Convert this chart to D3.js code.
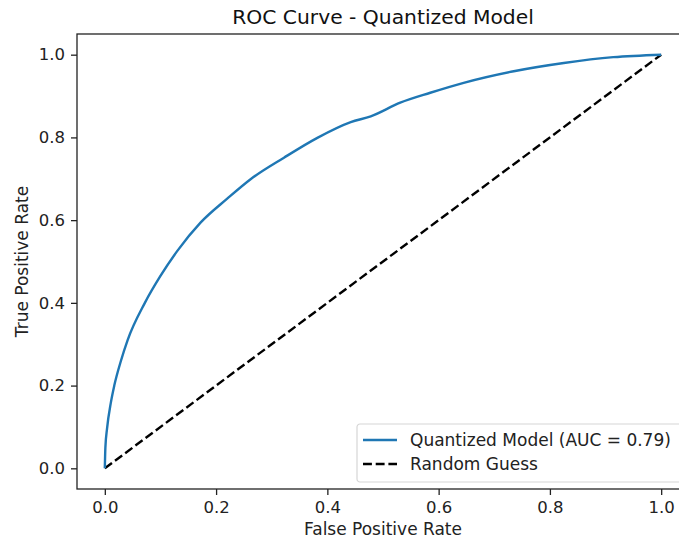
<!DOCTYPE html>
<html>
<head>
<meta charset="utf-8">
<style>
  body { margin: 0; background: #fff; }
  svg { display: block; font-family: "DejaVu Sans", sans-serif; }
</style>
</head>
<body>
<svg id="chart" width="679" height="543"></svg>
<script src="https://d3js.org/d3.v7.min.js"></script>
<script>
// ROC points
var fpr = [0, 0.001, 0.004, 0.011, 0.017, 0.029, 0.041, 0.072, 0.1, 0.13, 0.172, 0.22,
           0.262, 0.322, 0.382, 0.442, 0.478, 0.531, 0.585, 0.645, 0.735, 0.825, 0.914, 1.0]
var tpr = [0, 0.05, 0.096, 0.16, 0.2, 0.26, 0.31, 0.4, 0.465, 0.525, 0.594, 0.652,
           0.699, 0.751, 0.799, 0.837, 0.851, 0.884, 0.908, 0.932, 0.96, 0.98, 0.994, 1.0]
var guessX = [0, 1]
var guessY = [0, 1]
var ticks = [0, 0.2, 0.4, 0.6, 0.8, 1.0]
var labels = ["Quantized Model (AUC = 0.79)", "Random Guess"]

var svg = d3.select("#chart")
var pLeft = 77, pRight = 689, pTop = 34, pBottom = 489
var lw = 2.4, dash = "8.9,3.8"

var x = d3.scaleLinear().domain([-0.05, 1.05]).range([pLeft, pRight])
var y = d3.scaleLinear().domain([-0.05, 1.05]).range([pBottom, pTop])

var line = d3.line()
    .x(function(d) { return x(d[0]) })
    .y(function(d) { return y(d[1]) })

svg.append("path")
    .datum(d3.zip(guessX, guessY))
    .attr("d", line)
    .attr("fill", "none")
    .attr("stroke", "#000")
    .attr("stroke-width", lw)
    .attr("stroke-dasharray", dash)

svg.append("path")
    .datum(d3.zip(fpr, tpr))
    .attr("d", line.curve(d3.curveMonotoneX))
    .attr("fill", "none")
    .attr("stroke", "#1f77b4")
    .attr("stroke-width", lw)
    .attr("stroke-linejoin", "round")

// axes
var xAxis = svg.append("g")
    .attr("transform", "translate(0," + pBottom + ")")
    .call(d3.axisBottom(x).tickValues(ticks).tickFormat(d3.format(".1f")).tickSize(6).tickPadding(6).tickSizeOuter(0))
var yAxis = svg.append("g")
    .attr("transform", "translate(" + pLeft + ",0)")
    .call(d3.axisLeft(y).tickValues(ticks).tickFormat(d3.format(".1f")).tickSize(6).tickPadding(6).tickSizeOuter(0))

;[xAxis, yAxis].forEach(function(g) {
    g.selectAll("text").attr("font-size", 16.5).attr("fill", "#222").attr("font-family", "DejaVu Sans")
    g.selectAll("line").attr("stroke", "#222").attr("stroke-width", 1.3)
    g.select(".domain").remove()
})

// frame
svg.append("rect")
    .attr("x", pLeft).attr("y", pTop)
    .attr("width", pRight - pLeft).attr("height", pBottom - pTop)
    .attr("fill", "none").attr("stroke", "#222").attr("stroke-width", 1.3)

// title and labels
svg.append("text")
    .attr("x", (pLeft + pRight) / 2).attr("y", 24)
    .attr("text-anchor", "middle").attr("font-size", 20.3).attr("fill", "#111")
    .text("ROC Curve - Quantized Model")
svg.append("text")
    .attr("x", (pLeft + pRight) / 2).attr("y", 535)
    .attr("text-anchor", "middle").attr("font-size", 17).attr("fill", "#222")
    .text("False Positive Rate")
svg.append("text")
    .attr("transform", "translate(28," + (pTop + pBottom) / 2 + ") rotate(-90)")
    .attr("text-anchor", "middle").attr("font-size", 17).attr("fill", "#222")
    .text("True Positive Rate")

// legend
var leg = svg.append("g").attr("transform", "translate(357,424)")
leg.append("rect")
    .attr("width", 326).attr("height", 58).attr("rx", 3)
    .attr("fill", "#fff").attr("fill-opacity", 0.8)
    .attr("stroke", "#d6d6d6").attr("stroke-width", 1.2)
var styles = [{ c: "#1f77b4", dash: null }, { c: "#000", dash: dash }]
labels.forEach(function(t, i) {
    var yy = 16 + i * 24
    leg.append("line")
        .attr("x1", 6).attr("x2", 40).attr("y1", yy).attr("y2", yy)
        .attr("stroke", styles[i].c).attr("stroke-width", lw)
        .attr("stroke-dasharray", styles[i].dash)
    leg.append("text")
        .attr("x", 53).attr("y", yy + 6)
        .attr("font-size", 17).attr("fill", "#222")
        .text(t)
})
</script>
</body>
</html>
